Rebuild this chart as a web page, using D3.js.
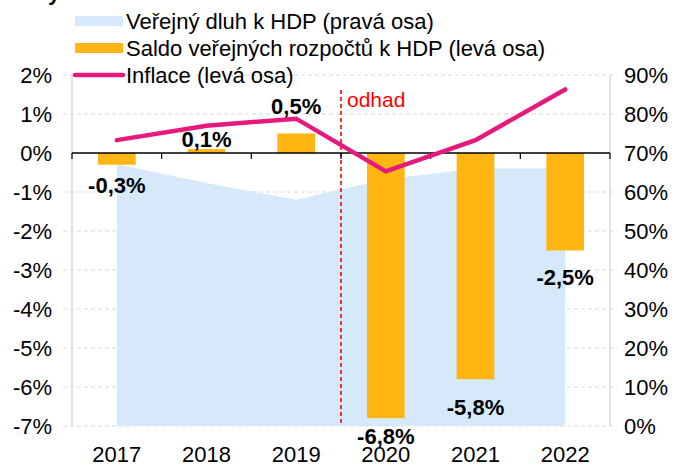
<!DOCTYPE html>
<html>
<head>
<meta charset="utf-8">
<script src="https://cdn.jsdelivr.net/npm/d3@7"></script>
<style>
  html, body { margin: 0; padding: 0; background: #fff; }
  svg { display: block; font-family: "Liberation Sans", Arial, sans-serif; }
</style>
</head>
<body>
<svg id="chart" width="675" height="465"></svg>
<script>
// ---- Data ----
const years = ["2017", "2018", "2019", "2020", "2021", "2022"];
const saldo = [-0.3, 0.1, 0.5, -6.8, -5.8, -2.5];          // % HDP, left axis
const inflace = [0.33, 0.7, 0.88, -0.47, 0.33, 1.63];      // left axis
const dluh = [67.1, 62.3, 58.0, 63.3, 66.0, 66.0];         // % HDP, right axis
const saldoLabels = ["-0,3%", "0,1%", "0,5%", "-6,8%", "-5,8%", "-2,5%"];
const leftTicks = [2, 1, 0, -1, -2, -3, -4, -5, -6, -7];
const rightTicks = [90, 80, 70, 60, 50, 40, 30, 20, 10, 0];
const legendItems = ["Veřejný dluh k HDP (pravá osa)", "Saldo veřejných rozpočtů k HDP (levá osa)", "Inflace (levá osa)"];
const estimateStart = "2020";
const estimateText = "odhad";

// ---- Styles / layout ----
const C = { area: "#D5E9FB", bar: "#FFB612", line: "#E6197C", grid: "#D9D9D9", red: "#FF0000" };
const FS = 22;
const plot = { left: 72, right: 610, top: 75, bottom: 426 };
const labelNudge = [21, -10, -27, 18, 28, 27];

const svg = d3.select("#chart");

const x = d3.scaleBand().domain(years).range([plot.left, plot.right]);
const cx = d => x(d) + x.bandwidth() / 2;
const yL = d3.scaleLinear().domain([-7, 2]).range([plot.bottom, plot.top]);
const yR = d3.scaleLinear().domain([0, 90]).range([plot.bottom, plot.top]);

// cut title fragment at the very top
svg.append("text").attr("x", 48).attr("y", 0).attr("font-size", FS).attr("font-weight", "bold").text("y");

// gridlines
svg.append("g").selectAll("line").data(leftTicks.filter(t => t !== 0)).join("line")
  .attr("x1", plot.left - 9).attr("x2", plot.right + 7)
  .attr("y1", d => yL(d)).attr("y2", d => yL(d))
  .attr("stroke", C.grid).attr("stroke-width", 1.2).attr("stroke-dasharray", "4,3");

// axis lines
svg.append("line").attr("x1", plot.left).attr("x2", plot.left).attr("y1", plot.top).attr("y2", plot.bottom)
  .attr("stroke", C.grid).attr("stroke-width", 1.5);
svg.append("line").attr("x1", plot.right).attr("x2", plot.right).attr("y1", plot.top).attr("y2", plot.bottom)
  .attr("stroke", C.grid).attr("stroke-width", 1.5);

// area (debt, right axis)
const area = d3.area().x((d, i) => cx(years[i])).y0(yR(0)).y1(d => yR(d));
svg.append("path").datum(dluh).attr("d", area).attr("fill", C.area);

// estimate divider
const xDiv = x(estimateStart);
svg.append("line").attr("x1", xDiv).attr("x2", xDiv).attr("y1", 90).attr("y2", plot.bottom)
  .attr("stroke", C.red).attr("stroke-width", 1.6).attr("stroke-dasharray", "4,3");
svg.append("text").attr("x", xDiv + 6).attr("y", 99).attr("dominant-baseline", "central")
  .attr("font-size", 21).attr("fill", C.red).text(estimateText);

// bars
const bw = x.bandwidth() * 0.42;
svg.append("g").selectAll("rect").data(saldo).join("rect")
  .attr("x", (d, i) => cx(years[i]) - bw / 2)
  .attr("width", bw)
  .attr("y", d => Math.min(yL(0), yL(d)))
  .attr("height", d => Math.abs(yL(d) - yL(0)))
  .attr("fill", C.bar);

// zero axis with ticks
svg.append("line").attr("x1", plot.left).attr("x2", plot.right).attr("y1", yL(0)).attr("y2", yL(0))
  .attr("stroke", "#000").attr("stroke-width", 1.5);
const bounds = years.map(y => x(y)).concat([plot.right]);
svg.append("g").selectAll("line").data(bounds).join("line")
  .attr("x1", d => d).attr("x2", d => d).attr("y1", yL(0)).attr("y2", yL(0) + 6)
  .attr("stroke", "#000").attr("stroke-width", 1.2);

// inflation line
const line = d3.line().x((d, i) => cx(years[i])).y(d => yL(d));
svg.append("path").datum(inflace).attr("d", line).attr("fill", "none")
  .attr("stroke", C.line).attr("stroke-width", 4.5).attr("stroke-linecap", "round").attr("stroke-linejoin", "miter");

// data labels
svg.append("g").selectAll("text").data(saldo).join("text")
  .attr("x", (d, i) => cx(years[i]))
  .attr("y", (d, i) => yL(d) + labelNudge[i])
  .attr("text-anchor", "middle").attr("dominant-baseline", "central")
  .attr("font-size", FS).attr("font-weight", "bold").attr("fill", "#000")
  .text((d, i) => saldoLabels[i]);

// left axis labels
svg.append("g").selectAll("text").data(leftTicks).join("text")
  .attr("x", 52).attr("y", d => yL(d)).attr("text-anchor", "end").attr("dominant-baseline", "central")
  .attr("font-size", FS).attr("fill", "#000").text(d => d + "%");

// right axis labels
svg.append("g").selectAll("text").data(rightTicks).join("text")
  .attr("x", 624).attr("y", d => yR(d)).attr("text-anchor", "start").attr("dominant-baseline", "central")
  .attr("font-size", FS).attr("fill", "#000").text(d => d + "%");

// x labels
svg.append("g").selectAll("text").data(years).join("text")
  .attr("x", d => cx(d)).attr("y", 454).attr("text-anchor", "middle").attr("dominant-baseline", "central")
  .attr("font-size", FS).attr("fill", "#000").text(d => d);

// legend
const lg = svg.append("g");
const rows = [21, 48, 75];
lg.append("rect").attr("x", 75).attr("y", rows[0] - 5).attr("width", 48).attr("height", 10).attr("fill", C.area);
lg.append("rect").attr("x", 75).attr("y", rows[1] - 5).attr("width", 48).attr("height", 10).attr("fill", C.bar);
lg.append("line").attr("x1", 75).attr("x2", 123).attr("y1", rows[2]).attr("y2", rows[2])
  .attr("stroke", C.line).attr("stroke-width", 4.5).attr("stroke-linecap", "round");
lg.selectAll("text").data(legendItems).join("text")
  .attr("x", 126).attr("y", (d, i) => rows[i]).attr("dominant-baseline", "central")
  .attr("font-size", FS).attr("fill", "#000").text(d => d);
</script>
</body>
</html>
